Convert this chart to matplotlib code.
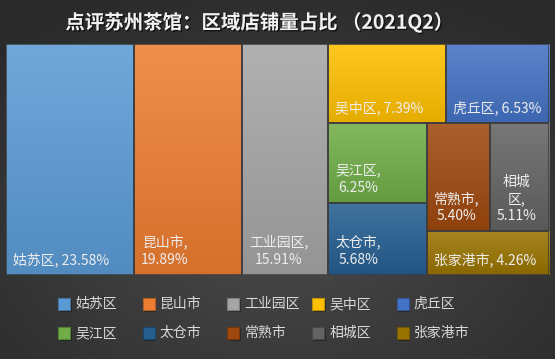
import numpy as np
import matplotlib
matplotlib.use('Agg')
import matplotlib.pyplot as plt
from matplotlib import colors as mcolors
from matplotlib.patches import Rectangle
from matplotlib import patheffects as pe
from matplotlib.transforms import offset_copy

plt.rcParams['font.family'] = ['Noto Sans CJK SC', 'DejaVu Sans']

title = '点评苏州茶馆：区域店铺量占比 （2021Q2）'
districts = ['姑苏区', '昆山市', '工业园区', '吴中区', '虎丘区',
             '吴江区', '太仓市', '常熟市', '相城区', '张家港市']
shares = [23.58, 19.89, 15.91, 7.39, 6.53, 6.25, 5.68, 5.40, 5.11, 4.26]
palette = ['#5B9BD5', '#ED7D31', '#A5A5A5', '#FFC000', '#4472C4',
           '#70AD47', '#255E91', '#9E480E', '#636363', '#997300']
# how the tiles are grouped (indices into districts)
nesting = [0, 1, 2, [[3, 4], [[5, 6], [[7, 8], 9]]]]


def node_sum(node):
    if isinstance(node, int):
        return shares[node]
    return sum(node_sum(n) for n in node)


def layout(node, x, y, w, h, out):
    # split each group along its longer side, proportional to the shares
    if isinstance(node, int):
        out[node] = (x, y, w, h)
        return
    total = node_sum(node)
    for child in node:
        f = node_sum(child) / total
        if w >= h:
            layout(child, x, y, w * f, h, out)
            x += w * f
        else:
            layout(child, x, y, w, h * f, out)
            y += h * f


fig = plt.figure(figsize=(5.55, 3.59), dpi=100)
FW, FH = 555, 359

# background with a soft radial gradient
bg = fig.add_axes([0, 0, 1, 1], zorder=-1)
yy, xx = np.mgrid[0:FH, 0:FW]
r = np.hypot((xx - FW / 2) / FW, (yy - 230) / FH)
t = np.clip(r / 0.72, 0, 1)[..., None]
c_in = np.array(mcolors.to_rgb('#4a4a4a'))
c_out = np.array(mcolors.to_rgb('#2a2a2a'))
bg.imshow(c_in * (1 - t) + c_out * t, extent=(0, FW, FH, 0), aspect='auto')
bg.set_xlim(0, FW)
bg.set_ylim(FH, 0)
bg.axis('off')

# treemap area
ax = fig.add_axes([6 / FW, 84 / FH, 543 / FW, 231 / FH])
ax.set_autoscale_on(False)
W, H = ax.bbox.width, ax.bbox.height
ax.set_xlim(0, W)
ax.set_ylim(H, 0)
ax.axis('off')

rects = {}
layout(nesting, 0, 0, W, H, rects)

renderer = fig.canvas.get_renderer()
lab_kw = dict(fontsize=10, color='#eeeeee', linespacing=1.3)


def text_width(s):
    tt = fig.text(0, 0, s, **lab_kw)
    wpx = tt.get_window_extent(renderer).width
    tt.remove()
    return wpx


def wrap_label(name, pct, avail):
    one = f'{name}, {pct}'
    if text_width(one) <= avail:
        return one
    # the comma stays with the last character of the name
    tokens = list(name[:-1]) + [name[-1] + ',']
    lines, cur = [], ''
    for tok in tokens:
        if cur and text_width(cur + tok) > avail:
            lines.append(cur)
            cur = tok
        else:
            cur += tok
    lines.append(cur)
    lines.append(pct)
    return '\n'.join(lines)


for i, (name, val, col) in enumerate(zip(districts, shares, palette)):
    x, y, w, h = rects[i]
    base = np.array(mcolors.to_rgb(col))
    top = base + (1 - base) * 0.13
    bot = base * 0.9
    grad = np.linspace(top, bot, 64)[:, None, :]
    ax.imshow(grad, extent=(x, x + w, y + h, y), aspect='auto',
              interpolation='bilinear', zorder=1)
    ax.add_patch(Rectangle((x, y), w, h, facecolor='none',
                           edgecolor='#3d3d3d', lw=1.1, zorder=2))
    label = wrap_label(name, f'{val:.2f}%', w - 14.5)
    tr = offset_copy(ax.transData, fig=fig, x=7, y=8, units='dots')
    ax.text(x, y + h, label, transform=tr, ha='left', va='bottom',
            multialignment='center', zorder=3, **lab_kw)

ax.set_xlim(0, W)
ax.set_ylim(H, 0)

fig.text(0.468, 0.938, title, ha='center', va='center', fontsize=14,
         fontweight='bold', color='#f2f2f2',
         path_effects=[pe.withSimplePatchShadow(offset=(1, -1),
                                                shadow_rgbFace='black',
                                                alpha=0.6)])

# legend, 2 rows x 5 columns
for i, (name, col) in enumerate(zip(districts, palette)):
    cx = 58 + (i % 5) * 84.7
    cy = 304 + (i // 5) * 29
    bg.add_patch(Rectangle((cx + 1.5, cy - 4.5), 12, 12, facecolor='black',
                           alpha=0.35, lw=0))
    edge = np.array(mcolors.to_rgb(col)) * 0.75
    bg.add_patch(Rectangle((cx, cy - 6), 12, 12, facecolor=col,
                           edgecolor=edge, lw=0.8))
    bg.text(cx + 17, cy, name, ha='left', va='center', fontsize=10,
            color='#d9d9d9')

fig.savefig('out.png', dpi=100)
